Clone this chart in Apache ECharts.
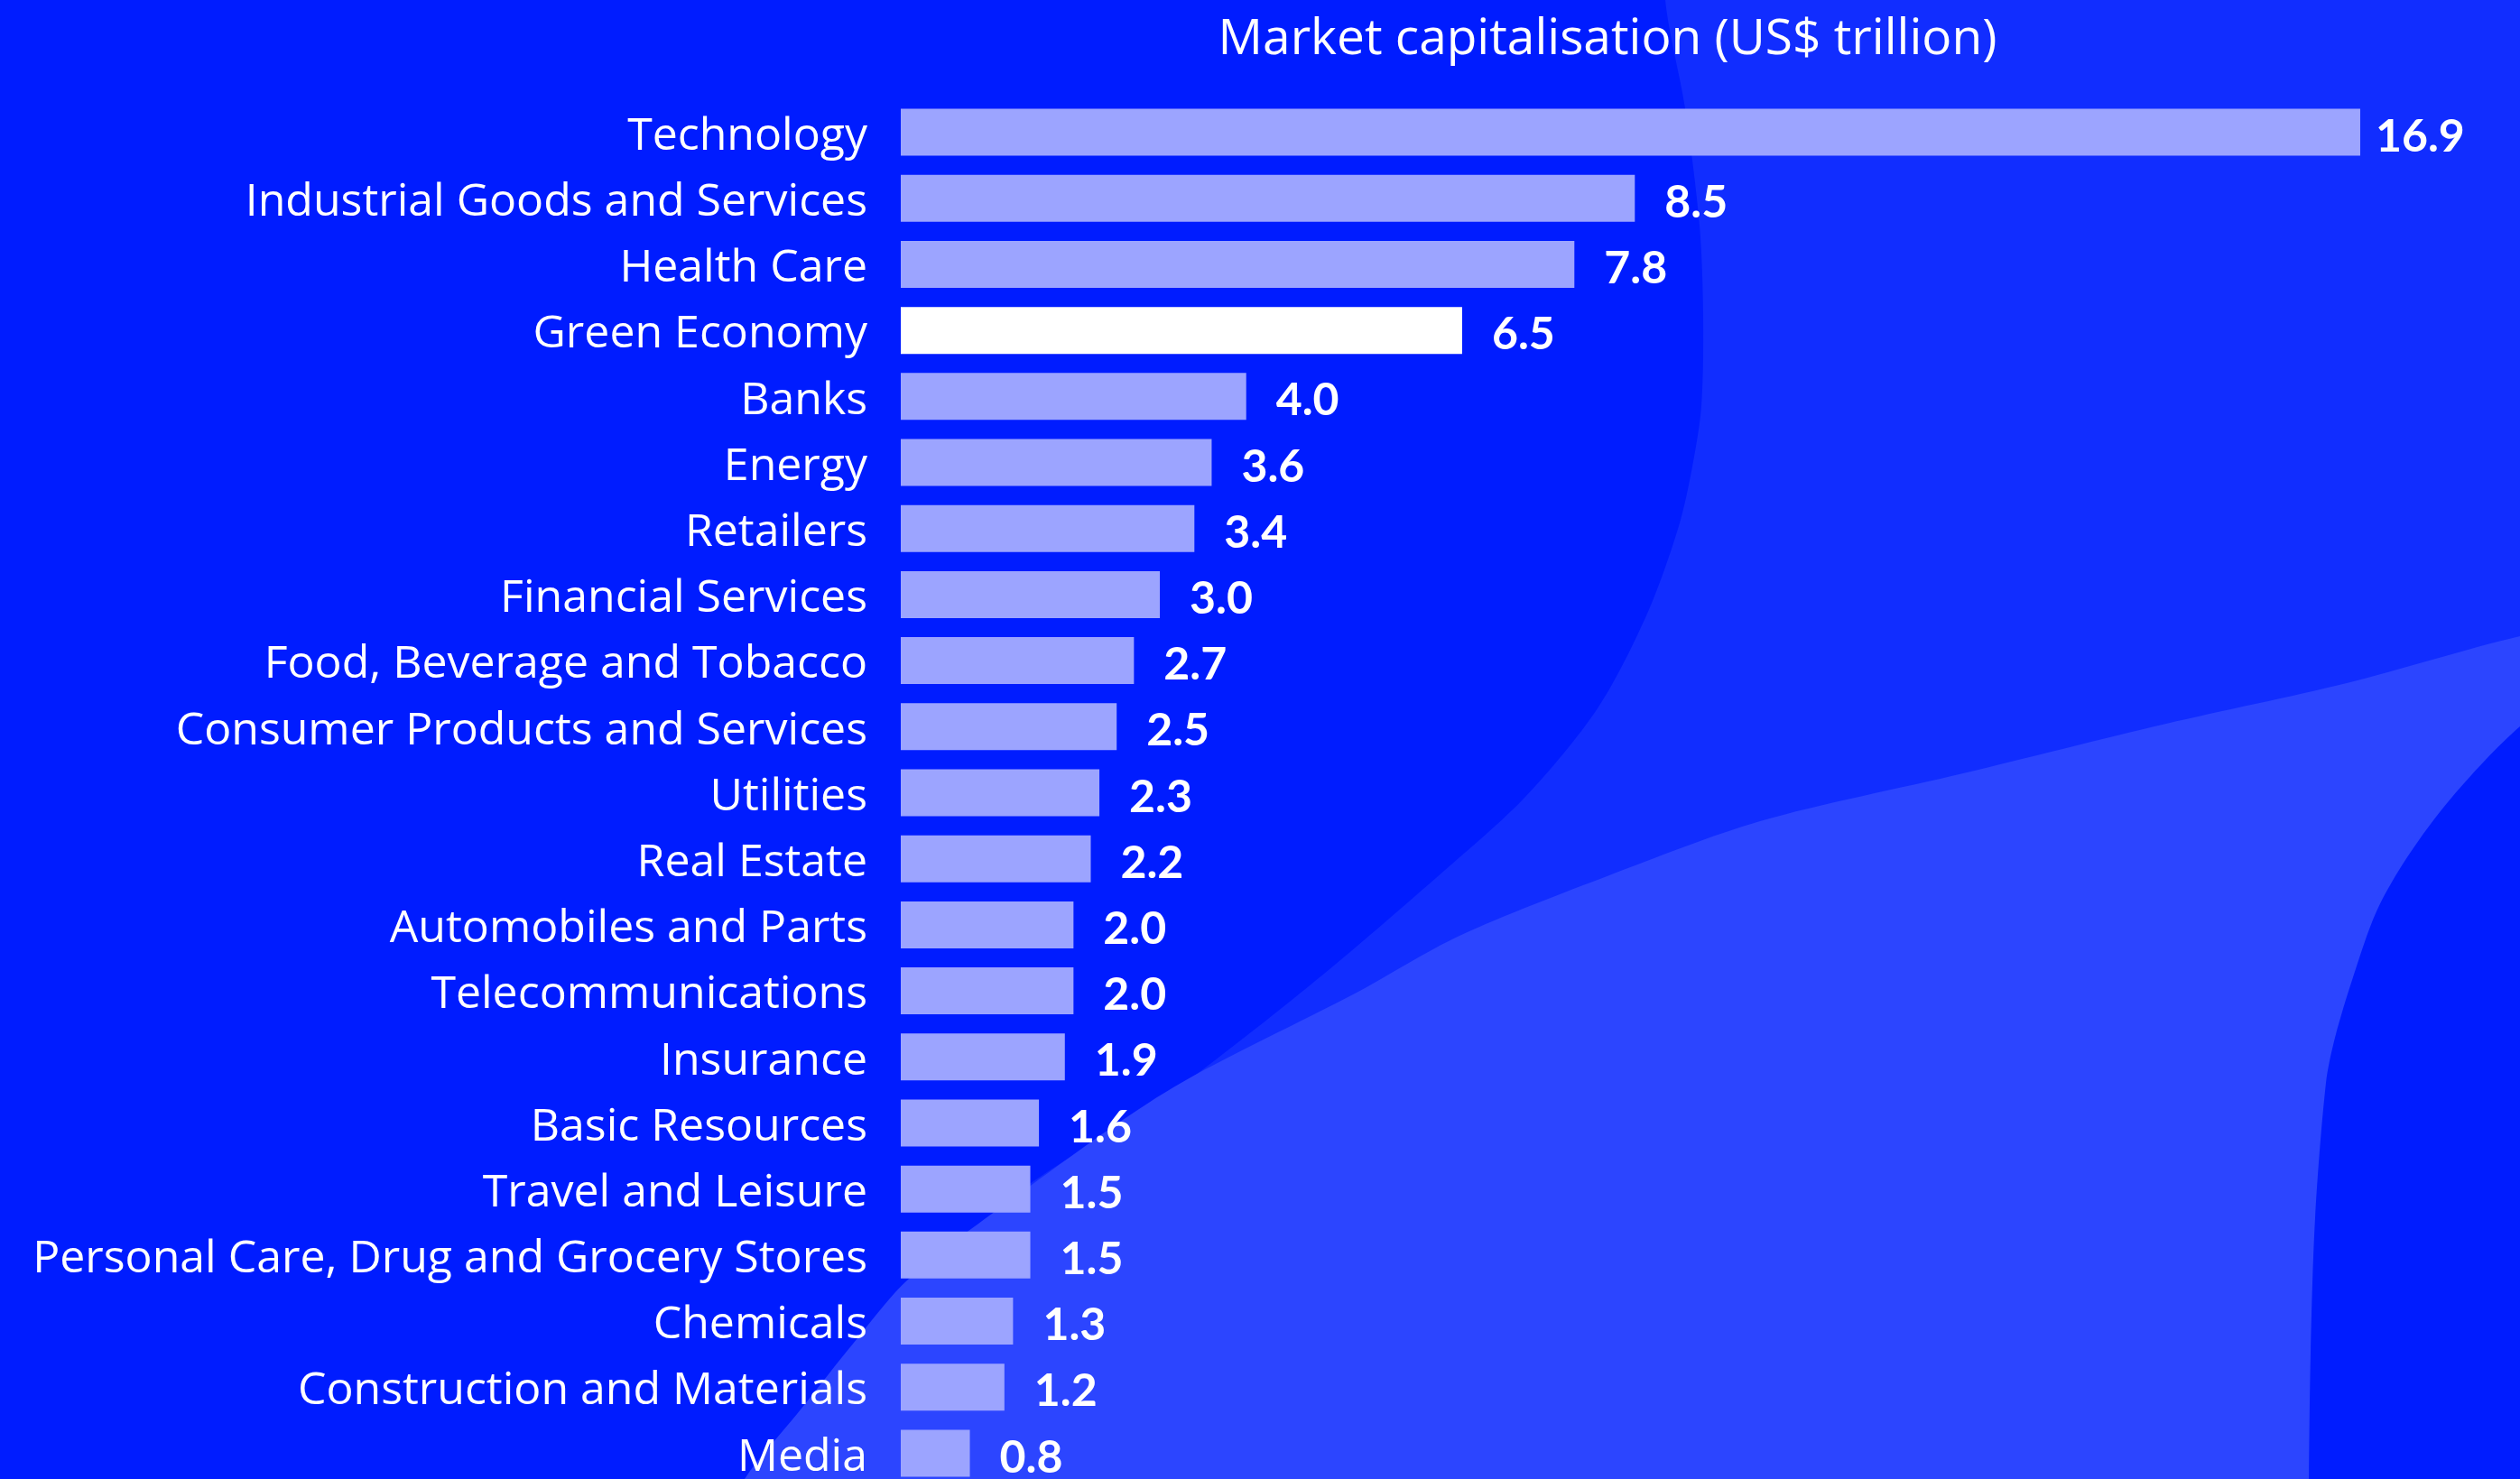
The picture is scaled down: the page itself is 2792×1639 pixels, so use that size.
<!DOCTYPE html>
<html lang="en">
<head>
    <meta charset="UTF-8">
    <title>Market capitalisation</title>
    <script src="https://cdn.jsdelivr.net/npm/echarts/dist/echarts.min.js"></script>
    <style>
        html, body { margin: 0; padding: 0; background: #001cff; }
        #chart1 { width: 2792px; height: 1639px; }
    </style>
</head>
<body>
<div id="chart1"></div>
</body>
<script type="text/javascript">
    var sectors = ['Technology', 'Industrial Goods and Services', 'Health Care', 'Green Economy', 'Banks', 'Energy',
        'Retailers', 'Financial Services', 'Food, Beverage and Tobacco', 'Consumer Products and Services',
        'Utilities', 'Real Estate', 'Automobiles and Parts', 'Telecommunications', 'Insurance',
        'Basic Resources', 'Travel and Leisure', 'Personal Care, Drug and Grocery Stores', 'Chemicals',
        'Construction and Materials', 'Media'];
    var marketCap = [16.9, 8.5, 7.8, 6.5, 4.0, 3.6, 3.4, 3.0, 2.7, 2.5, 2.3, 2.2, 2.0, 2.0, 1.9, 1.6, 1.5, 1.5, 1.3, 1.2, 0.8];
    var highlight = 'Green Economy';
    var axisTitle = 'Market capitalisation (US$ trillion)';

    var chart1 = echarts.init(document.getElementById('chart1'));

    // background swooshes (corner points pushed off canvas so smoothing only bends the visible curve)
    var midShape = [[1840, -150], [1845, 0], [1867, 120], [1883, 250], [1887, 350], [1885, 450], [1875, 517],
        [1860, 583], [1825, 680], [1770, 785], [1690, 883], [1600, 965], [1450, 1093], [1283, 1222],
        [1100, 1345], [1000, 1500], [900, 1800], [3100, 1900], [3100, -150]];
    var lightShape = [[3100, 640], [2792, 705], [2600, 757], [2400, 802], [2175, 857], [1950, 910],
        [1783, 970], [1617, 1037], [1503, 1100], [1300, 1205], [1143, 1313], [1007, 1417], [950, 1483],
        [883, 1567], [825, 1639], [760, 1760], [3100, 1900]];
    var darkShape = [[3000, 640], [2792, 805], [2717, 883], [2667, 950], [2633, 1010], [2607, 1083],
        [2587, 1150], [2577, 1200], [2565, 1350], [2560, 1500], [2558, 1639], [2556, 1800], [3100, 1900]];

    var data = marketCap.map(function (v, i) {
        var item = {value: v};
        if (sectors[i] === highlight) item.itemStyle = {color: '#ffffff'};
        // top label sits tighter to the bar
        if (i === 0) item.label = {distance: 17};
        return item;
    });

    option = {
        backgroundColor: '#001cff',
        animation: false,
        graphic: [
            {type: 'polygon', z: -10, silent: true, shape: {points: midShape, smooth: 0.3}, style: {fill: '#112dff'}},
            {type: 'polygon', z: -9, silent: true, shape: {points: lightShape, smooth: 0.3}, style: {fill: '#2c45ff'}},
            {type: 'polygon', z: -8, silent: true, shape: {points: darkShape, smooth: 0.3}, style: {fill: '#001cff'}},
            {
                type: 'text', x: 1781, y: 44, z: 10,
                style: {
                    text: axisTitle, fill: '#ffffff', font: '55px "Open Sans"',
                    textAlign: 'center', textVerticalAlign: 'middle'
                }
            }
        ],
        grid: {left: 998, top: 110, height: 1537, right: 0, outerBoundsMode: 'none'},
        xAxis: {
            type: 'value', min: 0, max: 18.75, show: false,
            splitLine: {show: false}
        },
        yAxis: {
            type: 'category',
            data: sectors,
            inverse: true,
            axisLine: {show: false},
            axisTick: {show: false},
            axisLabel: {
                color: '#ffffff', fontFamily: 'Open Sans', fontSize: 50, margin: 37,
                // small line box hung from the tick nudges text a few px down
                verticalAlign: 'top', lineHeight: 10
            }
        },
        series: [{
            type: 'bar',
            data: data,
            barWidth: 52,
            itemStyle: {color: '#9ca4ff'},
            label: {
                show: true, position: 'right', distance: 33, offset: [0, 5],
                color: '#ffffff', fontFamily: 'Lato', fontWeight: 'bold', fontSize: 50,
                formatter: function (p) { return p.value.toFixed(1); }
            }
        }]
    };
    chart1.setOption(option);
</script>
</html>
